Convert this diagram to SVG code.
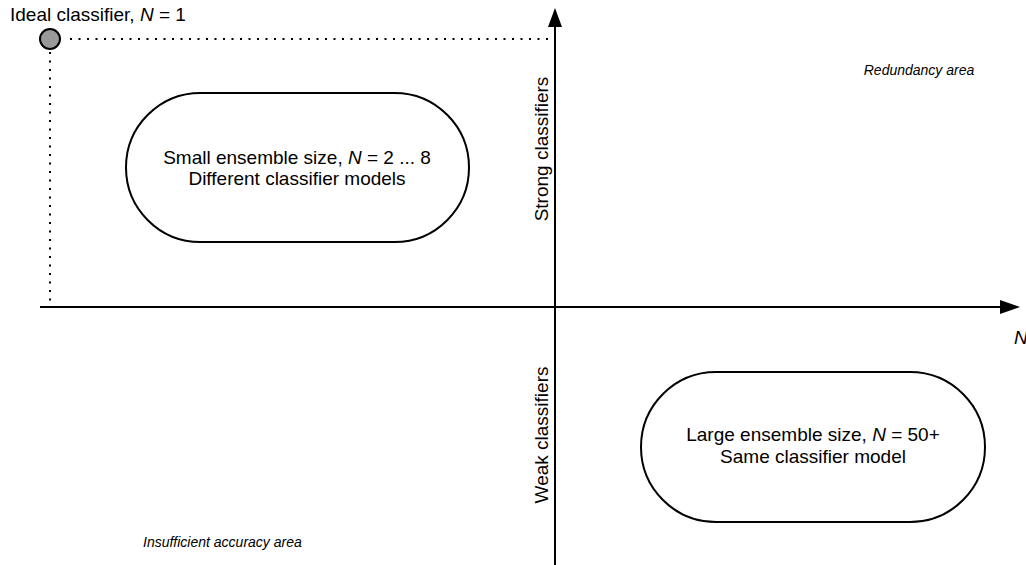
<svg xmlns="http://www.w3.org/2000/svg" width="1026" height="565" viewBox="0 0 1026 565">
<style>
text{font-family:"Liberation Sans",Arial,sans-serif;fill:#000}
.lbl{font-size:19px}
.mid{text-anchor:middle}
.area{font-size:14px;font-style:italic}
.axis{stroke:#000;stroke-width:2;fill:none}
.dot{stroke:#000;stroke-width:2;stroke-dasharray:2 6.5;fill:none}
.pill{fill:#fff;stroke:#000;stroke-width:2}
</style>
<rect width="1026" height="565" fill="#fff"/>
<g id="connectors">
<path class="axis" d="M40,307 H1000"/>
<path d="M1000,300 L1020,307 L1000,314 Z" fill="#000"/>
<path class="axis" d="M555,565 V27"/>
<path d="M548,27 L555,8 L562,27 Z" fill="#000"/>
<path class="dot" d="M70,39 H552"/>
<path class="dot" d="M50,52 V308"/>
</g>
<g id="ideal">
<circle cx="50" cy="39" r="10" fill="#999" stroke="#000" stroke-width="2"/>
<text class="lbl" x="10" y="21">Ideal classifier, <tspan font-style="italic">N</tspan> = 1</text>
</g>
<g id="small">
<rect class="pill" x="126" y="93" width="343" height="149" rx="74.5"/>
<text class="lbl mid" x="297" y="164">Small ensemble size, <tspan font-style="italic">N</tspan> = 2 ... 8</text>
<text class="lbl mid" x="297" y="185">Different classifier models</text>
</g>
<g id="large">
<rect class="pill" x="641" y="372" width="344" height="150" rx="75"/>
<text class="lbl mid" x="813" y="441">Large ensemble size, <tspan font-style="italic">N</tspan> = 50+</text>
<text class="lbl mid" x="813" y="463">Same classifier model</text>
</g>
<g id="strong">
<text class="lbl mid" transform="translate(548,149) rotate(-90)">Strong classifiers</text>
</g>
<g id="weak">
<text class="lbl mid" transform="translate(548,435) rotate(-90)">Weak classifiers</text>
</g>
<g id="naxis">
<text class="lbl" x="1014" y="344" font-style="italic">N</text>
</g>
<g id="redundancy">
<text class="area mid" x="919" y="75">Redundancy area</text>
</g>
<g id="insufficient">
<text class="area" x="143" y="547">Insufficient accuracy area</text>
</g>
</svg>
